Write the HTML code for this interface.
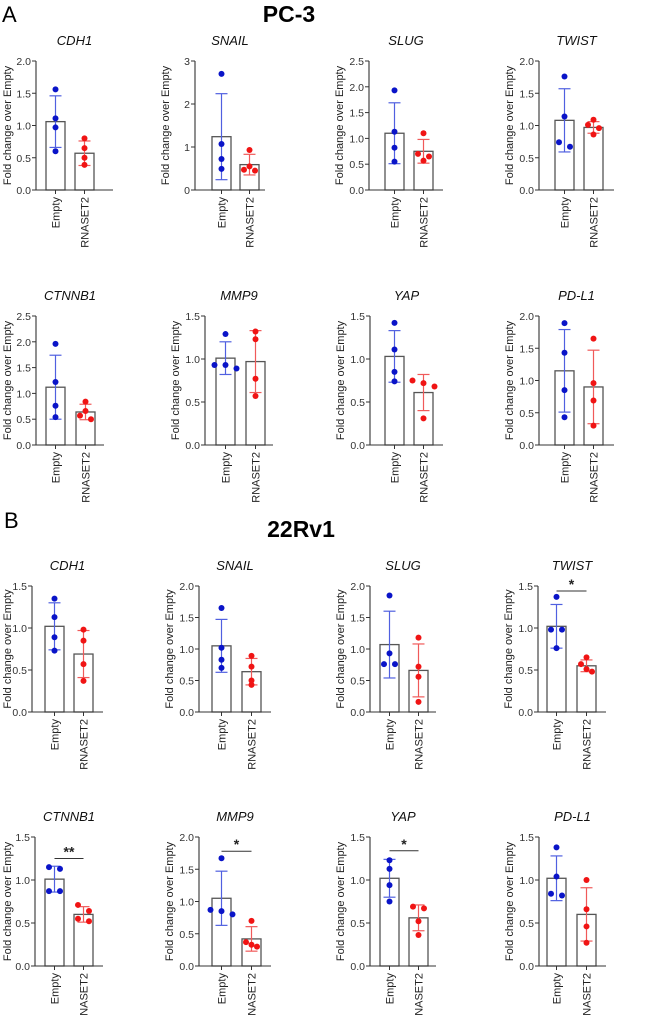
<!DOCTYPE html>
<html><head><meta charset="utf-8"><style>
body{margin:0;background:#fff;}
svg{display:block;font-family:"Liberation Sans",Arial,sans-serif;}
</style></head><body>
<svg id="fig" width="669" height="1016" viewBox="0 0 669 1016">
<text x="2" y="22" font-size="22" fill="#000">A</text>
<text x="289" y="22" font-size="23" font-weight="bold" text-anchor="middle" fill="#000">PC-3</text>
<text x="4" y="528" font-size="22" fill="#000">B</text>
<text x="301" y="537" font-size="23" font-weight="bold" text-anchor="middle" fill="#000">22Rv1</text>
</svg>
<script>
// ---- data ----
const genes = ["CDH1","SNAIL","SLUG","TWIST","CTNNB1","MMP9","YAP","PD-L1","CDH1","SNAIL","SLUG","TWIST","CTNNB1","MMP9","YAP","PD-L1"];
const yMax = [2,3,2.5,2,2.5,1.5,1.5,2,1.5,2,2,1.5,1.5,2,1.5,1.5];
const yStep = [0.5,1,0.5,0.5,0.5,0.5,0.5,0.5,0.5,0.5,0.5,0.5,0.5,0.5,0.5,0.5];
const emptyMean = [1.06,1.24,1.10,1.08,1.12,1.01,1.03,1.15,1.02,1.05,1.07,1.02,1.01,1.05,1.02,1.02];
const emptySD = [0.40,1.00,0.59,0.49,0.62,0.19,0.30,0.64,0.28,0.42,0.53,0.26,0.15,0.42,0.22,0.26];
const rnaMean = [0.57,0.59,0.75,0.97,0.64,0.97,0.61,0.90,0.69,0.64,0.66,0.55,0.60,0.42,0.56,0.60];
const rnaSD = [0.19,0.24,0.23,0.09,0.15,0.36,0.21,0.57,0.28,0.21,0.42,0.07,0.09,0.19,0.15,0.31];
const emptyPts = [[1.56,1.11,0.97,0.60],[2.7,1.07,0.72,0.49],[1.93,1.13,0.82,0.55],[1.76,1.14,0.74,0.67],
 [1.96,1.22,0.76,0.54],[1.29,0.93,0.93,0.89],[1.42,1.11,0.85,0.74],[1.89,1.43,0.85,0.43],
 [1.35,1.13,0.89,0.73],[1.65,1.02,0.83,0.70],[1.85,0.93,0.76,0.76],[1.37,0.98,0.98,0.76],
 [1.15,1.13,0.87,0.87],[1.67,0.87,0.85,0.80],[1.23,1.13,0.94,0.75],[1.38,1.04,0.84,0.82]];
const rnaPts = [[0.80,0.65,0.50,0.39],[0.93,0.55,0.47,0.45],[1.10,0.70,0.65,0.57],[1.09,1.01,0.96,0.86],
 [0.84,0.66,0.57,0.50],[1.32,1.23,0.77,0.57],[0.75,0.72,0.68,0.31],[1.65,0.96,0.69,0.30],
 [0.98,0.85,0.57,0.37],[0.89,0.72,0.50,0.43],[1.18,0.72,0.56,0.16],[0.65,0.57,0.51,0.48],
 [0.71,0.64,0.55,0.52],[0.70,0.37,0.33,0.30],[0.69,0.67,0.52,0.36],[1.00,0.66,0.46,0.27]];
const sigLabel = ["","","","","","","","","","","","*","**","*","*",""];
const sigY = [0,0,0,0,0,0,0,0,0,0,0,1.44,1.25,1.78,1.34,0];
const categories = ["Empty","RNASET2"];

// ---- layout (pixels) ----
const layout = [
 [36,46,75,113,61,190],[195,212,240,265,61,190],[369,385,414,443,61,190],[539,555,584,614,61,190],
 [36,46,76,104,316,445],[205,216,246,273,316,445],[370,385,414,443,316,445],[539,555,584,614,316,445],
 [32,45,74,103,586,712],[199,212,242,271,586,712],[370,380,409,436,586,712],[538,547,577,606,586,712],
 [35,45,74,103,837,966],[199,212,242,271,837,966],[370,380,409,436,837,966],[539,547,577,606,837,966]];
const BW = 19;
const svg = document.getElementById('fig');
const NS = 'http://www.w3.org/2000/svg';
function mk(tag, attrs, parent){const e=document.createElementNS(NS,tag);for(const k in attrs)e.setAttribute(k,attrs[k]);(parent||svg).appendChild(e);return e;}
function jitter(pts){
  const off=pts.map(()=>0);
  for(let i=0;i<pts.length;i++){const near=[];for(let j=0;j<pts.length;j++)if(Math.abs(pts[i]-pts[j])<0.07)near.push(j);
    if(near.length>1){const k=near.indexOf(i);off[i]=(k-(near.length-1)/2)*11;}}
  return off;
}
genes.forEach((g,i)=>{
  const [ax,b1,b2,aend,top,bot]=layout[i];
  const y=v=>bot-(v/yMax[i])*(bot-top);
  const grp=mk('g',{});
  
  
  const t=mk('text',{x:(ax+aend)/2,y:top-16,'font-size':13,'font-style':'italic','text-anchor':'middle',fill:'#111'},grp);
  t.textContent=g;
  
  
  const ylx=Math.max(ax-26,11);
  const yl=mk('text',{x:0,y:0,'font-size':11,'text-anchor':'middle',fill:'#222',transform:`translate(${ylx},${(top+bot)/2}) rotate(-90)`},grp);
  yl.textContent='Fold change over Empty';
  
  
  const means=[emptyMean[i],rnaMean[i]], sds=[emptySD[i],rnaSD[i]], pts=[emptyPts[i],rnaPts[i]];
  const cols=['#0a14c8','#f01414'], ecol=['#5060e0','#f05a5a'];
  [b1,b2].forEach((bx,k)=>{
    const r=mk('rect',{x:bx,y:y(means[k]),width:BW,height:bot-y(means[k]),fill:'#fff',stroke:'#555','stroke-width':1.3},grp);
    
    
    const cx=bx+BW/2;
    const up=y(means[k]+sds[k]), lo=y(Math.max(0,means[k]-sds[k]));
    mk('line',{x1:cx,x2:cx,y1:up,y2:lo,stroke:ecol[k],'stroke-width':1.2},grp);
    mk('line',{x1:cx-6,x2:cx+6,y1:up,y2:up,stroke:ecol[k],'stroke-width':1.2},grp);
    mk('line',{x1:cx-6,x2:cx+6,y1:lo,y2:lo,stroke:ecol[k],'stroke-width':1.2},grp);
    const off=jitter(pts[k]);
    pts[k].forEach((v,j)=>{
      const c=mk('circle',{cx:cx+off[j],cy:y(v),r:3,fill:cols[k]},grp);
      
      
    });
    mk('line',{x1:cx,x2:cx,y1:bot,y2:bot+4,stroke:'#333','stroke-width':1},grp);
    const xl=mk('text',{x:0,y:0,'font-size':11,'text-anchor':'end',fill:'#222',transform:`translate(${cx+4},${bot+7}) rotate(-90)`},grp);
    xl.textContent=categories[k];
    
    
  });
  mk('line',{x1:ax,x2:ax,y1:top,y2:bot,stroke:'#333','stroke-width':1.1},grp);
  mk('line',{x1:ax,x2:aend,y1:bot,y2:bot,stroke:'#333','stroke-width':1.1},grp);
  for(let v=0;v<=yMax[i]+1e-9;v+=yStep[i]){
    mk('line',{x1:ax-4,x2:ax,y1:y(v),y2:y(v),stroke:'#333','stroke-width':1},grp);
    const tl=mk('text',{x:ax-5,y:y(v)+4,'font-size':10.5,'text-anchor':'end',fill:'#333'},grp);
    tl.textContent=yStep[i]>=1?v.toFixed(0):v.toFixed(1);
    
    
  }
  if(sigLabel[i]){
    const sy=y(sigY[i]);
    mk('line',{x1:b1+BW/2,x2:b2+BW/2,y1:sy,y2:sy,stroke:'#333','stroke-width':1},grp);
    const st=mk('text',{x:(b1+b2+BW)/2,y:sy-2,'font-size':14,'font-weight':'bold','text-anchor':'middle',fill:'#222'},grp);
    st.textContent=sigLabel[i];
    
    
  }
});
</script>
</body></html>
